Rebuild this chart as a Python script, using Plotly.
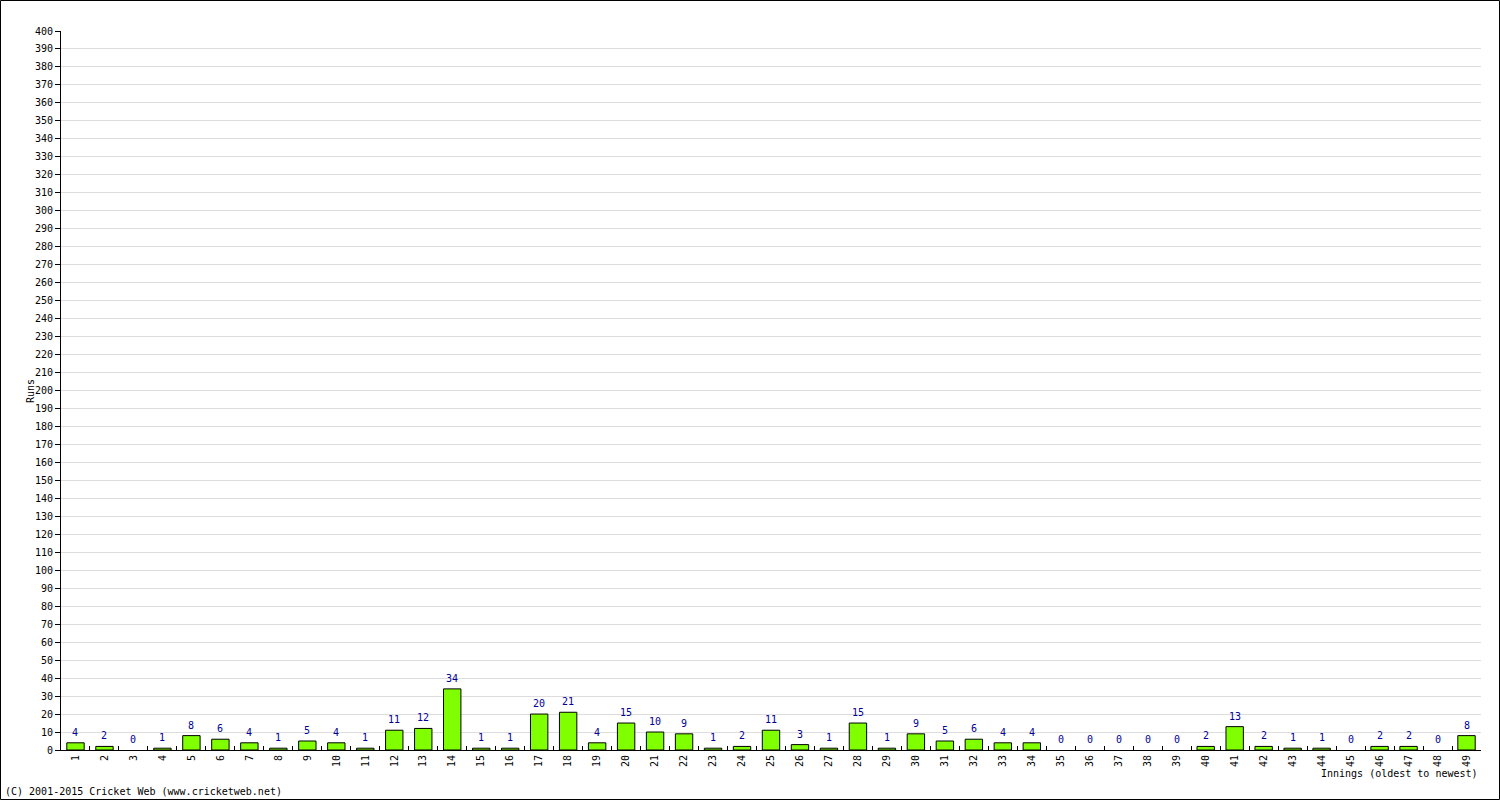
import plotly.graph_objects as go

innings = [str(i) for i in range(1, 50)]
runs = [4, 2, 0, 1, 8, 6, 4, 1, 5, 4, 1, 11, 12, 34, 1, 1, 20, 21, 4, 15,
        10, 9, 1, 2, 11, 3, 1, 15, 1, 9, 5, 6, 4, 4, 0, 0, 0, 0, 0, 2,
        13, 2, 1, 1, 0, 2, 2, 0, 8]
y_ticks = list(range(0, 401, 10))

FONT = "DejaVu Sans Mono"
W, H = 1500, 800
ML, MR, MT, MB = 61, 19, 31, 50

fig = go.Figure()
fig.add_trace(go.Bar(
    x=innings, y=runs, width=0.6,
    marker=dict(color="#7FFF00",
                line=dict(color="black", width=[1 if v > 0 else 0 for v in runs])),
    hoverinfo="x+y",
))
# value labels: category axis positions are the category indices
for idx, v in enumerate(runs):
    fig.add_annotation(
        x=idx, y=v, xref="x", yref="y", text=str(v), showarrow=False,
        yanchor="bottom", yshift=3,
        font=dict(family=FONT, size=10, color="#000099"),
    )

fig.update_layout(
    width=W, height=H,
    margin=dict(l=ML, r=MR, t=MT, b=MB),
    paper_bgcolor="white", plot_bgcolor="white",
    showlegend=False,
    font=dict(family=FONT, size=10, color="black"),
    bargap=0.4,
)
fig.update_xaxes(
    type="category", range=[-0.5, 48.5],
    tickson="boundaries", ticks="inside", ticklen=4, tickcolor="black",
    tickangle=-90, showline=True, linecolor="black", linewidth=1,
    showgrid=False, tickfont=dict(family=FONT, size=10, color="black"),
)
fig.update_yaxes(
    range=[0, 400], tickvals=y_ticks, ticktext=[str(v) for v in y_ticks],
    ticks="outside", ticklen=5, tickcolor="black",
    showline=True, linecolor="black", linewidth=1,
    showgrid=True, gridcolor="#dddddd", gridwidth=1, zeroline=False,
    tickfont=dict(family=FONT, size=10, color="black"),
)

pw, ph = W - ML - MR, H - MT - MB
fig.add_annotation(
    text="Runs", textangle=-90, xref="paper", yref="paper",
    x=-(ML - 30) / pw, xanchor="center", y=(750 - 391) / ph, yanchor="middle",
    showarrow=False, font=dict(family=FONT, size=10, color="black"),
)
fig.add_annotation(
    text="Innings (oldest to newest)", xref="paper", yref="paper",
    x=1.0 - 1 / pw, xanchor="right",
    y=-(773 - 750) / ph, yanchor="middle",
    showarrow=False, font=dict(family=FONT, size=10, color="black"),
)
fig.add_annotation(
    text="(C) 2001-2015 Cricket Web (www.cricketweb.net)", xref="paper", yref="paper",
    x=-(ML - 3) / pw, xanchor="left",
    y=-(791 - 750) / ph, yanchor="middle",
    showarrow=False, font=dict(family=FONT, size=10, color="black"),
)
# outer border
fig.add_shape(
    type="rect", xref="paper", yref="paper",
    x0=-(ML - 0.5) / pw, x1=1 + (MR - 0.5) / pw,
    y0=-(MB - 0.5) / ph, y1=1 + (MT - 0.5) / ph,
    line=dict(color="black", width=1), fillcolor="rgba(0,0,0,0)",
)

fig.write_html("out.html")
